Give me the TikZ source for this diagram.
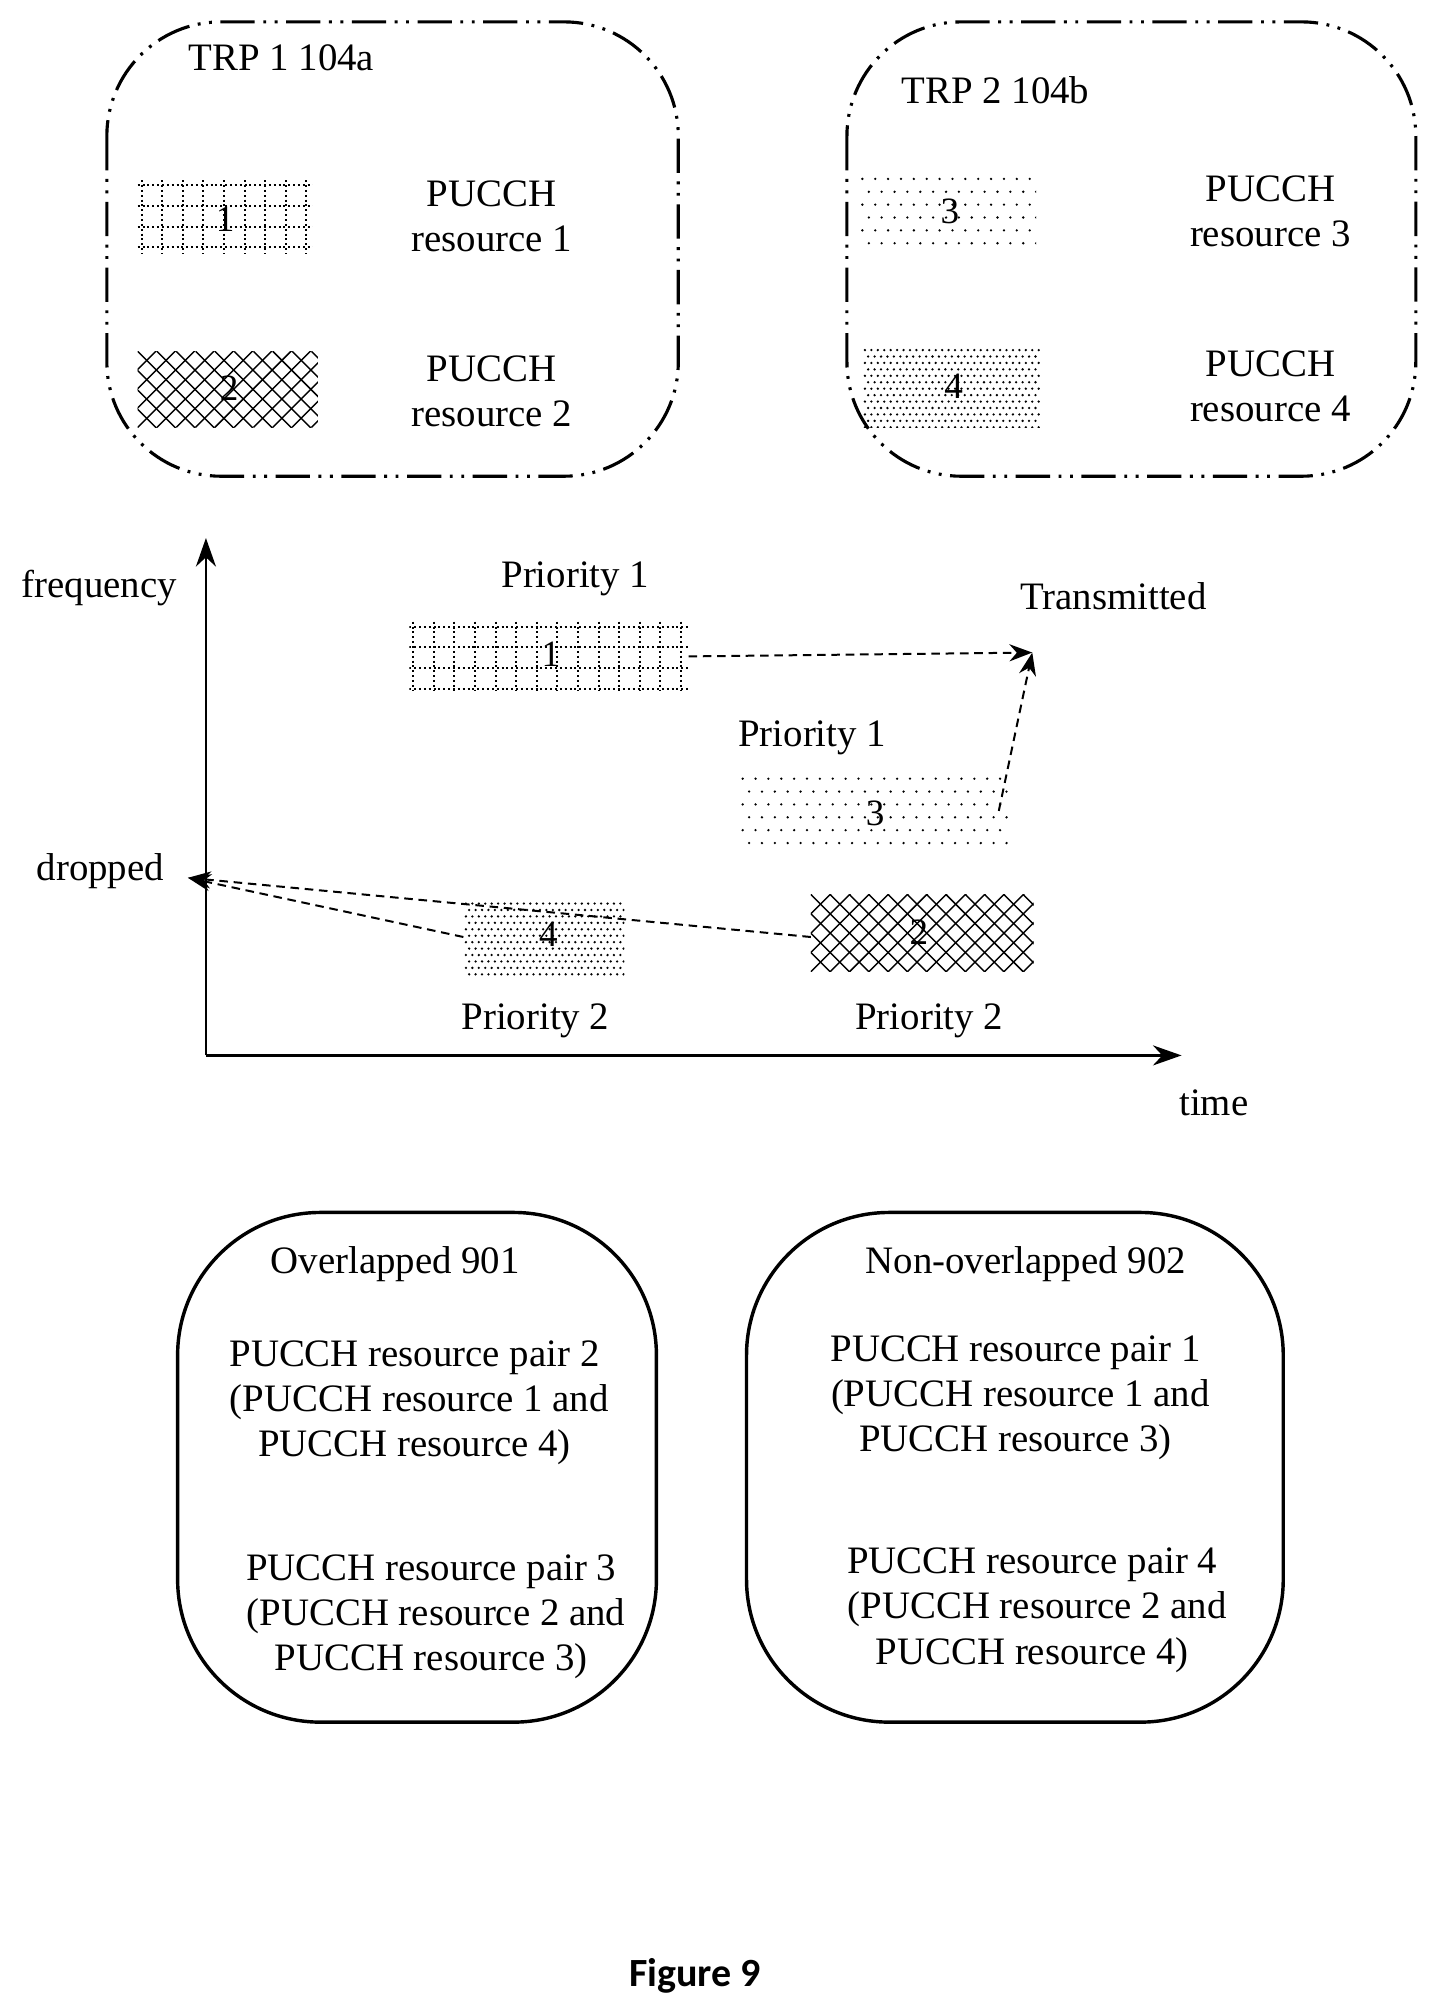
\documentclass[tikz,border=0pt]{standalone}
\usepackage{fontspec}
\setmainfont{Liberation Serif}
\newfontfamily\figfont{Carlito}
\usetikzlibrary{arrows.meta}
\newcommand\gridpat[4]{\begin{scope}\clip (#1,#2) rectangle (#3,#4);
 \foreach \d in {0,16,...,320}{\draw[densely dotted,line width=0.7pt] ({#1+\d+3},#2) -- ({#1+\d+3},#4); \draw[densely dotted,line width=0.7pt] (#1,{#2+\d+4}) -- (#3,{#2+\d+4});}\end{scope}}
\newcommand\crosspat[4]{\begin{scope}\clip (#1,#2) rectangle (#3,#4);
 \foreach \d in {-120,-105,...,300}{\draw[line width=0.5pt] ({#1+\d},#2) -- ++(100,100); \draw[line width=0.5pt] ({#1+\d},#4) -- ++(100,-100);}\end{scope}}
\newcommand\dotpat[5]{\begin{scope}\clip (#1,#2) rectangle (#3,#4);
 \foreach \i in {0,...,40}{\foreach \j in {0,...,12}{\fill ({#1+2+\i*#5+mod(\j,2)*#5/2},{#2+2+\j*#5}) circle (0.45pt);}}\end{scope}}
\tikzset{x=0.4506pt,y=-0.4506pt,
 trp/.style={line width=1.1pt,rounded corners=40,dash pattern=on 12pt off 3pt on 1pt off 3pt on 1pt off 3pt},
 sumbox/.style={line width=1.2pt,rounded corners=50},
 txt/.style={font=\fontsize{13.6}{15.8}\selectfont,align=center,inner sep=0},
 num/.style={font=\fontsize{13}{15}\selectfont,inner sep=0},
 con/.style={densely dashed,line width=0.7pt,-{Stealth[length=8pt,width=6pt]}}}
\begin{document}
\begin{tikzpicture}
\useasboundingbox (0,0) rectangle (1110,1557);
% TRP boxes
\draw[trp] (83,17) rectangle (527,370);
\node[txt,anchor=west] (t1) at (146,45) {TRP 1 104a};
\gridpat{107}{140}{243}{197}
\node[num] (a1) at (175,170) {1};
\node[txt] (p1) at (382,168) {PUCCH\\resource 1};
\crosspat{107}{273}{247}{332}
\node[num] (a2) at (178,302) {2};
\node[txt] (p2) at (382,304) {PUCCH\\resource 2};
\draw[trp] (658,17) rectangle (1100,370);
\node[txt,anchor=west] (t2) at (700,70) {TRP 2 104b};
\dotpat{668}{137}{805}{197}{10}
\node[num] (a3) at (738,164) {3};
\node[txt] (p3) at (987,164) {PUCCH\\resource 3};
\dotpat{670}{270}{808}{332}{5}
\node[num] (a4) at (741,300) {4};
\node[txt] (p4) at (987,300) {PUCCH\\resource 4};
% axes
\coordinate (o) at (160,820);
\coordinate (yt) at (160,418);
\coordinate (xt) at (918,820);
\draw[line width=1pt,-{Stealth[length=10pt,width=7pt]}] (o) -- (yt);
\draw[line width=1pt,-{Stealth[length=10pt,width=7pt]}] (o) -- (xt);
\node[txt] (fr) at (77,457) {frequency};
\node[txt] (tm) at (943,857) {time};
\node[txt] (dr) at (78,677) {dropped};
\coordinate (dp) at (146,682);
\node[txt] (pr1) at (447,450) {Priority 1};
\gridpat{318}{483}{535}{537}
\node[num] (b1) at (428,508) {1};
\node[txt] (trn) at (865,463) {Transmitted};
\coordinate (tp) at (802,507);
\node[txt] (pr3) at (631,573) {Priority 1};
\dotpat{575}{603}{783}{660}{10}
\node[num] (b3) at (680,632) {3};
\dotpat{360}{700}{485}{758}{5}
\node[num] (b4) at (426,726) {4};
\node[txt] (pr4) at (416,793) {Priority 2};
\crosspat{630}{695}{803}{755}
\node[num] (b2) at (714,724) {2};
\node[txt] (pr2) at (722,793) {Priority 2};
\coordinate (r1e) at (535,510);
\coordinate (r3e) at (776,630);
\coordinate (r4w) at (360,728);
\coordinate (r2w) at (630,728);
\draw[con] (r1e) -- (tp);
\draw[con] (r3e) -- (tp);
\draw[con] (r4w) -- (dp);
\draw[con] (r2w) -- (dp);
% bottom boxes
\draw[sumbox] (138,942) rectangle (510,1338);
\node[txt] (o1) at (307,982) {Overlapped 901};
\node[txt] (o2) at (322,1090) {PUCCH resource pair 2\\\ (PUCCH resource 1 and\\PUCCH resource 4)};
\node[txt] (o3) at (335,1256) {PUCCH resource pair 3\\\ (PUCCH resource 2 and\\PUCCH resource 3)};
\draw[sumbox] (580,942) rectangle (997,1338);
\node[txt] (n1) at (797,982) {Non-overlapped 902};
\node[txt] (n2) at (789,1086) {PUCCH resource pair 1\\\ (PUCCH resource 1 and\\PUCCH resource 3)};
\node[txt] (n3) at (802,1251) {PUCCH resource pair 4\\\ (PUCCH resource 2 and\\PUCCH resource 4)};
\node[font=\figfont\bfseries\fontsize{14}{16}\selectfont] (fig) at (540,1535) {Figure 9};
\end{tikzpicture}
\end{document}
